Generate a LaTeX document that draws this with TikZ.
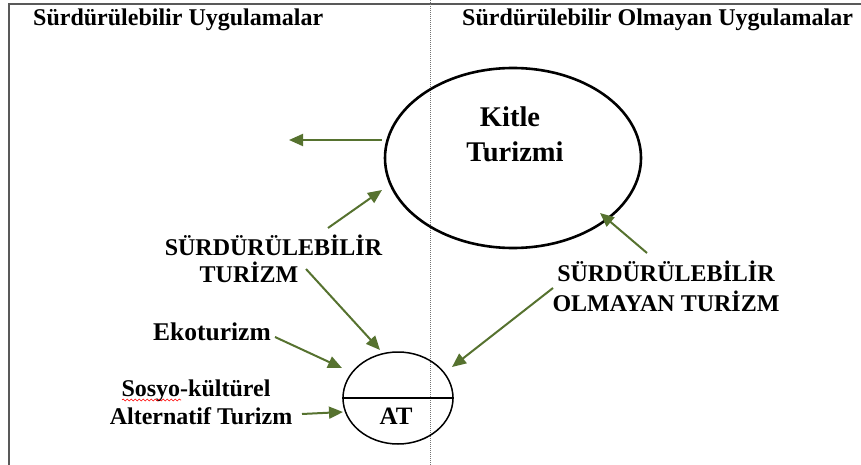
\documentclass[tikz,border=0pt]{standalone}
\usepackage{fontspec}
\setmainfont{Liberation Serif}
\usetikzlibrary{arrows.meta,shapes.geometric,decorations.pathmorphing}
\definecolor{olivearr}{HTML}{56722F}
\begin{document}
\begin{tikzpicture}[x=1pt,y=-1pt,
  arr/.style={olivearr,line width=2pt,-{Triangle[length=14pt,width=12pt]}},
  hdr/.style={font=\bfseries\fontsize{24}{27}\selectfont,inner sep=0pt,anchor=base west},
  lbl/.style={font=\bfseries\fontsize{24}{27}\selectfont,inner sep=0pt,anchor=base},
  slbl/.style={font=\bfseries\fontsize{24}{27}\selectfont,inner sep=0pt,anchor=base},
  big/.style={font=\bfseries\fontsize{28.5}{32}\selectfont,inner sep=0pt,anchor=base},
  frame/.style={draw=black!65,line width=2pt}]
\useasboundingbox (0,0) rectangle (861,465);
% frame and divider
\coordinate (fr1) at (861,4);
\coordinate (fr2) at (9,4);
\coordinate (fr3) at (9,465);
\draw[frame] (fr1) -- (fr2) -- (fr3);
\coordinate (dv1) at (430,0);
\coordinate (dv2) at (430,465);
\draw[black!55,line width=1pt,dash pattern=on 1pt off 1pt] (dv1) -- (dv2);
% headers
\node[hdr] (h1) at (33,26) {Sürdürülebilir Uygulamalar};
\node[hdr] (h2) at (462,26) {Sürdürülebilir Olmayan Uygulamalar};
% big ellipse
\node[ellipse,draw,line width=2.6pt,minimum width=256pt,minimum height=180pt,inner sep=0pt] (kt) at (513,158) {};
\node[big] (k1) at (510,127) {Kitle};
\node[big] (k2) at (515,161) {Turizmi};
% small ellipse
\node[ellipse,draw,line width=1.5pt,minimum width=110pt,minimum height=92pt,inner sep=0pt] (ate) at (398,398) {};
\draw[line width=2pt] (ate.west) -- (ate.east);
\node[slbl,font=\bfseries\fontsize{25}{28}\selectfont] (atx) at (396,424) {AT};
% labels
\node[lbl] (st1) at (273.5,255) {SÜRDÜRÜLEBİLİR};
\node[lbl] (st2) at (249,282) {TURİZM};
\node[lbl] (so1) at (666,281) {SÜRDÜRÜLEBİLİR};
\node[lbl] (so2) at (666,311) {OLMAYAN TURİZM};
\node[lbl,font=\bfseries\fontsize{25.5}{28}\selectfont] (eko) at (212,340) {Ekoturizm};
\node[slbl] (sk1) at (196,396) {Sosyo-kültürel};
\node[slbl] (sk2) at (201,424) {Alternatif Turizm};
\coordinate (wv1) at (122,400);
\coordinate (wv2) at (181,400);
\draw[red,line width=0.6pt,decorate,decoration={snake,amplitude=1pt,segment length=4pt}] (wv1) -- (wv2);
% arrow end points
\coordinate (a1s) at (381.7,140);
\coordinate (a1e) at (289,140);
\coordinate (a2s) at (328,228);
\coordinate (a2e) at (382,190);
\coordinate (a3s) at (306,269);
\coordinate (a3e) at (380,350);
\coordinate (a4s) at (275,337);
\coordinate (a4e) at (342,368);
\coordinate (a5s) at (302,414);
\coordinate (a5e) at (343,412);
\coordinate (a6s) at (647,253);
\coordinate (a6e) at (600,213);
\coordinate (a7s) at (553,288);
\coordinate (a7e) at (452,367);
\draw[arr] (a1s) -- (a1e);
\draw[arr] (a2s) -- (a2e);
\draw[arr] (a3s) -- (a3e);
\draw[arr] (a4s) -- (a4e);
\draw[arr] (a5s) -- (a5e);
\draw[arr] (a6s) -- (a6e);
\draw[arr] (a7s) -- (a7e);
\end{tikzpicture}
\end{document}
